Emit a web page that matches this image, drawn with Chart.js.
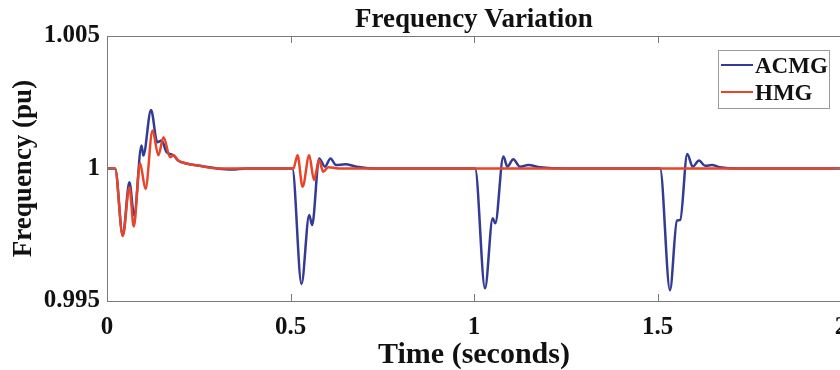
<!DOCTYPE html>
<html>
<head>
<meta charset="utf-8">
<script src="https://cdn.jsdelivr.net/npm/chart.js@4/dist/chart.umd.min.js"></script>
<style>
  html, body { margin: 0; padding: 0; background: #fff; overflow: hidden; }
  #wrap { width: 840px; height: 370px; overflow: hidden; }
  #box { width: 860px; height: 370px; }
</style>
</head>
<body>
<div id="wrap"><div id="box"><canvas id="freqChart"></canvas></div></div>
<script>
// tick labels
const xTicks = [0, 0.5, 1, 1.5, 2];
const yTicks = [0.995, 1, 1.005];

// ACMG (time in s, frequency in pu)
const acmgTime = [0, 0.022, 0.043, 0.061, 0.074, 0.094, 0.099, 0.120, 0.137, 0.149,
  0.162, 0.181, 0.194, 0.213, 0.253, 0.30, 0.34, 0.38, 0.505, 0.530,
  0.551, 0.559, 0.578, 0.594, 0.609, 0.624, 0.649, 0.68, 0.74, 1.003,
  1.030, 1.051, 1.058, 1.080, 1.091, 1.107, 1.125, 1.148, 1.18, 1.25,
  1.507, 1.534, 1.553, 1.562, 1.581, 1.596, 1.613, 1.63, 1.648, 1.67,
  1.72, 2.0];
const acmgFreq = [1, 1, 0.99747, 0.99948, 0.99823, 1.00087, 1.00049, 1.00221, 1.00099, 1.00106,
  1.00062, 1.0005, 1.0003, 1.0002, 1.0001, 1.0, 0.99996, 1.0, 1.0, 0.99564,
  0.99825, 0.99787, 1.00038, 1.00007, 1.00038, 1.00013, 1.00016, 1.00007, 1.0, 1.0,
  0.99548, 0.99812, 0.99793, 1.00045, 1.00007, 1.00035, 1.00007, 1.00013, 1.00005, 1.0,
  1.0, 0.99541, 0.99803, 0.99806, 1.00055, 1.00007, 1.0003, 1.0001, 1.00013, 1.00005,
  1.0, 1.0];

// HMG
const hmgTime = [0, 0.022, 0.043, 0.061, 0.073, 0.090, 0.105, 0.124, 0.140, 0.154,
  0.172, 0.181, 0.194, 0.213, 0.253, 0.30, 0.508, 0.519, 0.533, 0.551,
  0.564, 0.578, 0.589, 0.603, 0.63, 2.0];
const hmgFreq = [1, 1, 0.99745, 0.99929, 0.99781, 1.0002, 0.99923, 1.00143, 1.0005, 1.00118,
  1.00043, 1.0005, 1.0003, 1.0002, 1.0001, 1.0, 1.0, 1.0005, 0.99931, 1.0005,
  0.99957, 1.00032, 0.99988, 1.00005, 1.0, 1.0];

const FONT = "'Liberation Serif', 'Times New Roman', serif";
const AXIS_COLOR = '#7a7a7a';

function toPoints(xs, ys) {
  return xs.map((x, i) => ({ x: x, y: ys[i] }));
}

/* box round the plot, inward ticks, title and legend (MATLAB look) */
const matlabFrame = {
  id: 'matlabFrame',
  afterDraw(chart) {
    const ctx = chart.ctx;
    const a = chart.chartArea;
    const xs = chart.scales.x, ys = chart.scales.y;
    ctx.save();
    ctx.strokeStyle = AXIS_COLOR;
    ctx.lineWidth = 1;
    ctx.strokeRect(Math.round(a.left) + 0.5, Math.round(a.top) + 0.5,
      Math.round(a.right - a.left), Math.round(a.bottom - a.top));
    ctx.beginPath();
    xTicks.forEach(v => {
      const px = Math.round(xs.getPixelForValue(v)) + 0.5;
      ctx.moveTo(px, a.bottom); ctx.lineTo(px, a.bottom - 7);
      ctx.moveTo(px, a.top); ctx.lineTo(px, a.top + 7);
    });
    yTicks.forEach(v => {
      const py = Math.round(ys.getPixelForValue(v)) + 0.5;
      ctx.moveTo(a.left, py); ctx.lineTo(a.left + 7, py);
      ctx.moveTo(a.right, py); ctx.lineTo(a.right - 7, py);
    });
    ctx.stroke();

    // title
    ctx.fillStyle = '#111';
    ctx.font = 'bold 27px ' + FONT;
    ctx.textAlign = 'center';
    ctx.textBaseline = 'alphabetic';
    ctx.fillText('Frequency Variation', (a.left + a.right) / 2, a.top - 9);

    // legend
    const bw = 111, bh = 58;
    const bx = a.right - 12 - bw, by = a.top + 14;
    ctx.fillStyle = '#fff';
    ctx.fillRect(bx, by, bw, bh);
    ctx.strokeStyle = '#9a9a9a';
    ctx.strokeRect(Math.round(bx) + 0.5, Math.round(by) + 0.5, bw, bh);
    ctx.font = 'bold 23px ' + FONT;
    ctx.textAlign = 'left';
    chart.data.datasets.forEach((ds, i) => {
      const ly = by + 15 + i * 27;
      ctx.strokeStyle = ds.borderColor;
      ctx.lineWidth = 2;
      ctx.beginPath();
      ctx.moveTo(bx + 3, ly); ctx.lineTo(bx + 35, ly);
      ctx.stroke();
      ctx.fillStyle = '#111';
      ctx.fillText(ds.label, bx + 37, ly + 8);
    });
    ctx.restore();
  }
};

new Chart(document.getElementById('freqChart'), {
  type: 'line',
  data: {
    datasets: [{
      label: 'ACMG',
      data: toPoints(acmgTime, acmgFreq),
      borderColor: '#333b94',
      borderWidth: 2.5,
      pointRadius: 0,
      cubicInterpolationMode: 'monotone',
      order: 1
    }, {
      label: 'HMG',
      data: toPoints(hmgTime, hmgFreq),
      borderColor: '#e8442a',
      borderWidth: 2.5,
      pointRadius: 0,
      cubicInterpolationMode: 'monotone',
      order: 0
    }]
  },
  options: {
    responsive: true,
    maintainAspectRatio: false,
    animation: false,
    layout: { padding: { top: 36, right: 19, left: 0, bottom: 0 } },
    plugins: { legend: { display: false }, title: { display: false }, tooltip: { enabled: false } },
    scales: {
      x: {
        type: 'linear', min: 0, max: 2,
        afterBuildTicks: s => { s.ticks = xTicks.map(v => ({ value: v })); },
        afterFit: s => { s.height = 69; },
        grid: { display: false, drawTicks: false },
        border: { display: false },
        ticks: { padding: 12, color: '#111', font: { family: FONT, size: 25, weight: 'bold' }, maxRotation: 0,
          callback: v => String(v) },
        title: { display: true, text: 'Time (seconds)', color: '#111',
          font: { family: FONT, size: 30, weight: 'bold', lineHeight: 1 }, padding: { top: 0, bottom: 0 } }
      },
      y: {
        type: 'linear', min: 0.995, max: 1.005,
        afterBuildTicks: s => { s.ticks = yTicks.map(v => ({ value: v })); },
        afterFit: s => { s.width = 107; },
        grid: { display: false, drawTicks: false },
        border: { display: false },
        ticks: { padding: 7, color: '#111', font: { family: FONT, size: 25, weight: 'bold' },
          callback: v => String(v) },
        title: { display: true, text: 'Frequency (pu)', color: '#111',
          font: { family: FONT, size: 27, weight: 'bold', lineHeight: 1 }, padding: { top: 11, bottom: 0 } }
      }
    }
  },
  plugins: [matlabFrame]
});
</script>
</body>
</html>
